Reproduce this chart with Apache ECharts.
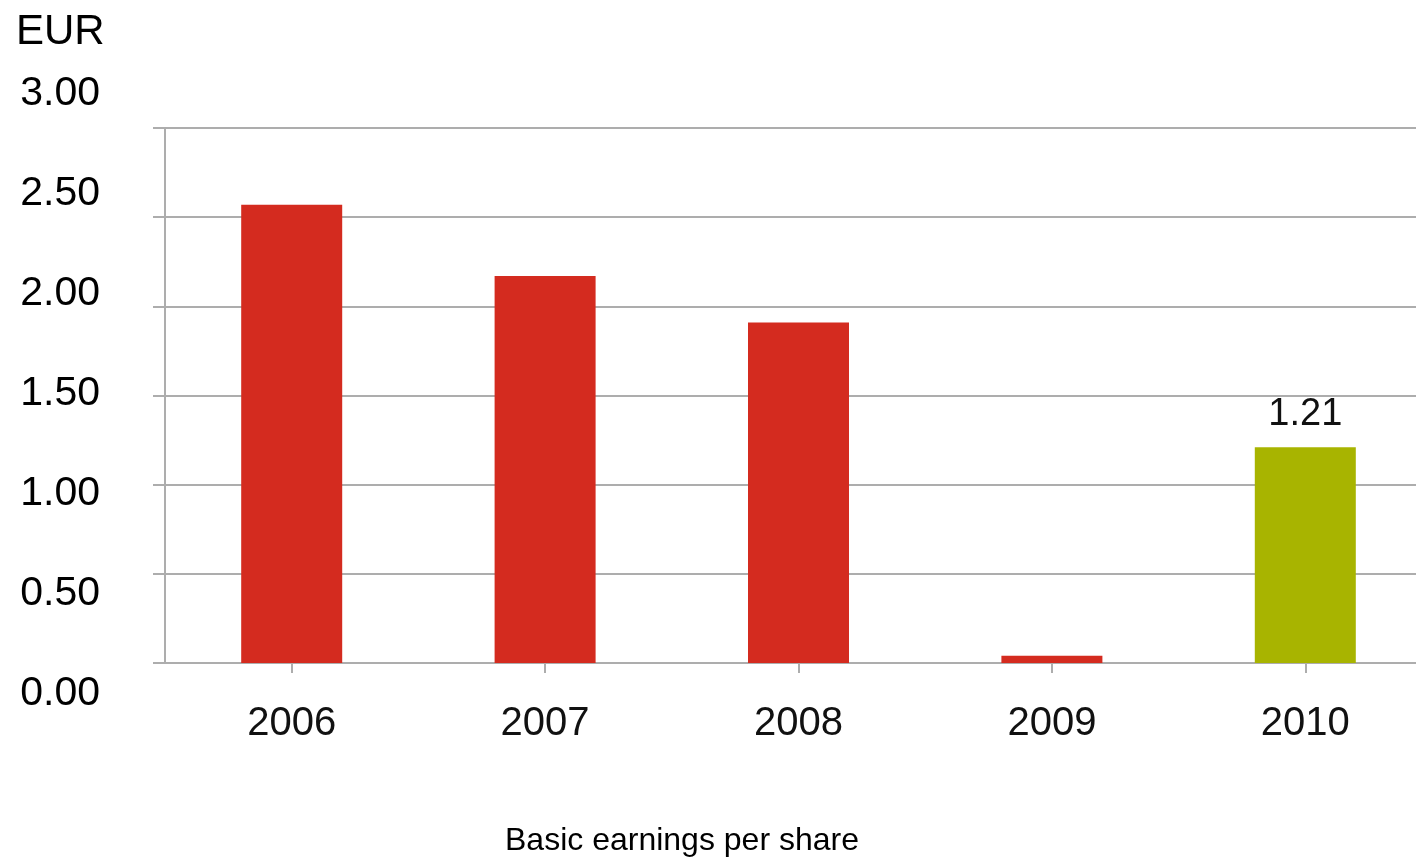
<!DOCTYPE html>
<html>
<head>
<meta charset="utf-8">
<title>Basic earnings per share</title>
<script src="https://cdn.jsdelivr.net/npm/echarts@6/dist/echarts.min.js"></script>
<style>
  html, body { margin: 0; padding: 0; background: #ffffff; }
  #chart { width: 1416px; height: 857px; }
</style>
</head>
<body>
<div id="chart"></div>
<script>
// Basic earnings per share, EUR
const years = ['2006', '2007', '2008', '2009', '2010'];
const eps = [2.57, 2.17, 1.91, 0.04, 1.21];
const yTicks = { min: 0, max: 3, step: 0.5 };
const unitLabel = 'EUR';
const seriesName = 'Basic earnings per share';

const FONT = 'Liberation Sans, Arial, sans-serif';
const RED = '#d42b1f';
const GREEN = '#a8b400';
const GRID_GREY = '#adadad';

const barData = eps.map((v, i) => ({
  value: v,
  itemStyle: { color: i === eps.length - 1 ? GREEN : RED },
  label: { show: i === eps.length - 1 }
}));

const chart = echarts.init(document.getElementById('chart'), null, { renderer: 'canvas' });

chart.setOption({
  backgroundColor: '#ffffff',
  animation: false,
  title: [
    {
      text: unitLabel,
      left: 16,
      top: 11,
      padding: 0,
      textStyle: { fontFamily: FONT, fontSize: 42, fontWeight: 'normal', color: '#000' }
    },
    {
      text: seriesName,
      left: 505,
      top: 825,
      padding: 0,
      textStyle: { fontFamily: FONT, fontSize: 32, fontWeight: 'normal', color: '#000' }
    }
  ],
  grid: [
    // plotting area
    { left: 165, top: 128, width: 1267, height: 535, outerBoundsMode: 'none', containLabel: false },
    // value scale labels, spread over a taller band
    { left: 165, top: 94, width: 10, height: 600, outerBoundsMode: 'none', containLabel: false }
  ],
  xAxis: [
    {
      type: 'category',
      gridIndex: 0,
      data: years,
      axisLine: { show: true, lineStyle: { color: GRID_GREY, width: 2 } },
      axisTick: { show: true, alignWithLabel: true, length: 10, lineStyle: { color: GRID_GREY, width: 2 } },
      axisLabel: { fontFamily: FONT, fontSize: 40, color: '#111', margin: 41 },
      splitLine: { show: false }
    },
    { type: 'category', gridIndex: 1, data: [''], show: false }
  ],
  yAxis: [
    {
      type: 'value',
      gridIndex: 0,
      min: yTicks.min,
      max: yTicks.max,
      interval: yTicks.step,
      axisLine: { show: true, lineStyle: { color: GRID_GREY, width: 2 } },
      axisTick: { show: true, length: 12, lineStyle: { color: GRID_GREY, width: 2 } },
      axisLabel: { show: false },
      splitLine: { show: true, lineStyle: { color: GRID_GREY, width: 2 } }
    },
    {
      type: 'value',
      gridIndex: 1,
      min: yTicks.min,
      max: yTicks.max,
      interval: yTicks.step,
      axisLine: { show: false },
      axisTick: { show: false },
      splitLine: { show: false },
      axisLabel: {
        fontFamily: FONT,
        fontSize: 41,
        color: '#000',
        margin: 65,
        formatter: v => v.toFixed(2)
      }
    }
  ],
  series: [
    {
      name: seriesName,
      type: 'bar',
      xAxisIndex: 0,
      yAxisIndex: 0,
      barWidth: 101,
      data: barData,
      label: {
        position: 'top',
        distance: 14,
        fontFamily: FONT,
        fontSize: 38,
        color: '#111',
        formatter: p => p.value.toFixed(2)
      }
    }
  ]
});
</script>
</body>
</html>
